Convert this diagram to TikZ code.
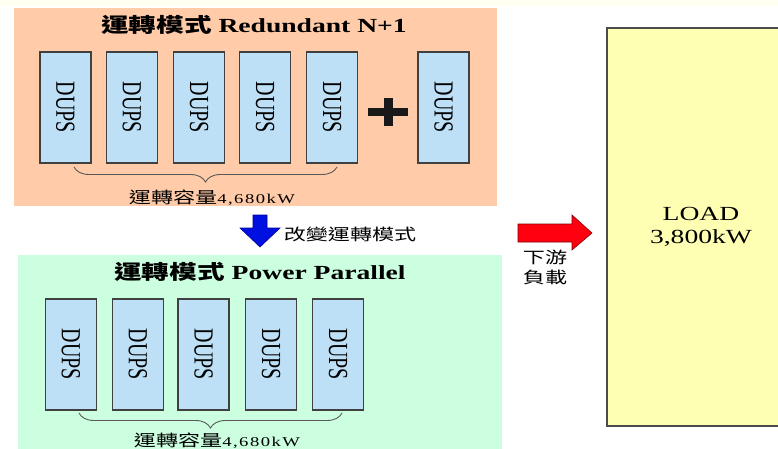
\documentclass[tikz,border=0pt]{standalone}
\usepackage{fontspec}
\setmainfont{Liberation Serif}
\newfontfamily\cjk{Noto Sans CJK TC}
\newfontfamily\capfont[LetterSpace=8]{Liberation Serif}
\usetikzlibrary{decorations.pathreplacing}
\definecolor{peach}{HTML}{FFCBA8}
\definecolor{mint}{HTML}{CCFFE0}
\definecolor{dupsblue}{HTML}{BDE0F6}
\definecolor{loadyellow}{HTML}{FFFFB4}
\definecolor{cream}{HTML}{FFFFF0}
\definecolor{arrowblue}{HTML}{0010E0}
\definecolor{arrowred}{HTML}{FF0010}
\newcommand{\sx}[1]{\scalebox{1.38}[1]{#1}}
\newcommand{\dupstext}{\rotatebox{-90}{\scalebox{1}[1.38]{\fontsize{20}{20}\selectfont DUPS}}}
\tikzset{
  dupsbox/.style={draw=black!75, line width=1.1pt, fill=dupsblue, minimum width=51pt, minimum height=111pt, inner sep=0pt},
  ttl/.style={inner sep=0pt, font=\fontsize{20}{24}\selectfont},
  small/.style={inner sep=0pt, font=\fontsize{16}{20}\selectfont},
  bracestyle/.style={draw=black!65, line width=0.9pt, decorate, decoration={brace, amplitude=15pt, mirror}},
}
\begin{document}
\begin{tikzpicture}[x=1pt,y=-1pt]
\useasboundingbox (0,0) rectangle (778,449);
\fill[white] (0,0) rectangle (778,449);
\fill[cream] (0,0) rectangle (778,6);
\begin{scope}
\clip (0,0) rectangle (778,449);
% panels
\fill[peach] (14,8) rectangle (497,206);
\fill[mint] (18,255) rectangle (502,460);
% load
\node[draw=black!70, line width=1.1pt, fill=loadyellow, minimum width=193pt, minimum height=398pt, inner sep=0pt] (load) at (703.5,227) {};
\end{scope}
\node[inner sep=0pt, align=center, font=\fontsize{20}{24}\selectfont] (loadtxt) at (701,227) {\sx{LOAD}\\[-0.5pt]\sx{3,800kW}};

% top panel
\node[ttl] (t1) at (254,25) {\sx{{\cjk\bfseries 運轉模式} \bfseries Redundant N+1}};
\node[dupsbox] (a1) at (65.5,107.5) {\dupstext};
\node[dupsbox] (a2) at (132,107.5) {\dupstext};
\node[dupsbox] (a3) at (199,107.5) {\dupstext};
\node[dupsbox] (a4) at (265,107.5) {\dupstext};
\node[dupsbox] (a5) at (332,107.5) {\dupstext};
\node[dupsbox] (a6) at (443.5,107.5) {\dupstext};
\node[inner sep=0pt, minimum width=39pt, minimum height=28pt] (plus) at (388,112) {};
\fill[black!90] ([yshift=-4pt]plus.west) rectangle ([yshift=4pt]plus.east);
\fill[black!90] ([xshift=-4.5pt]plus.north) rectangle ([xshift=4.5pt]plus.south);
\coordinate (b1l) at (74,167);
\coordinate (b1r) at (337,167);
\draw[bracestyle] (b1l) -- (b1r);
\node[small] (c1) at (212,198) {\sx{{\cjk 運轉容量}\fontsize{13.5}{16}\capfont 4,680kW}};

% blue arrow
\node[small] (mode) at (350,234) {\sx{\cjk 改變運轉模式}};
\coordinate (ba) at (260,215);
\draw[shift={(ba)}, fill=arrowblue, draw=blue!60!black, line width=0.6pt]
  (-7,0) -- (7,0) -- (7,13) -- (20,13) -- (0,32) -- (-20,13) -- (-7,13) -- cycle;

% bottom panel
\node[ttl] (t2) at (260,272) {\sx{{\cjk\bfseries 運轉模式} \bfseries Power Parallel}};
\node[dupsbox] (p1) at (71,354.5) {\dupstext};
\node[dupsbox] (p2) at (138,354.5) {\dupstext};
\node[dupsbox] (p3) at (203.5,354.5) {\dupstext};
\node[dupsbox] (p4) at (271,354.5) {\dupstext};
\node[dupsbox] (p5) at (338,354.5) {\dupstext};
\coordinate (b2l) at (79,413);
\coordinate (b2r) at (342,413);
\draw[bracestyle] (b2l) -- (b2r);
\node[small] (c2) at (217,441) {\sx{{\cjk 運轉容量}\fontsize{13.5}{16}\capfont 4,680kW}};

% red arrow
\coordinate (ra) at (518,233);
\draw[shift={(ra)}, fill=arrowred, draw=red!50!black, line width=0.6pt]
  (0,-9) -- (54,-9) -- (54,-18) -- (74,0) -- (54,17) -- (54,9) -- (0,9) -- cycle;
\node[small, align=center] (down) at (545,267) {\sx{\cjk 下游}\\[0pt]\sx{\cjk 負載}};
\end{tikzpicture}
\end{document}
